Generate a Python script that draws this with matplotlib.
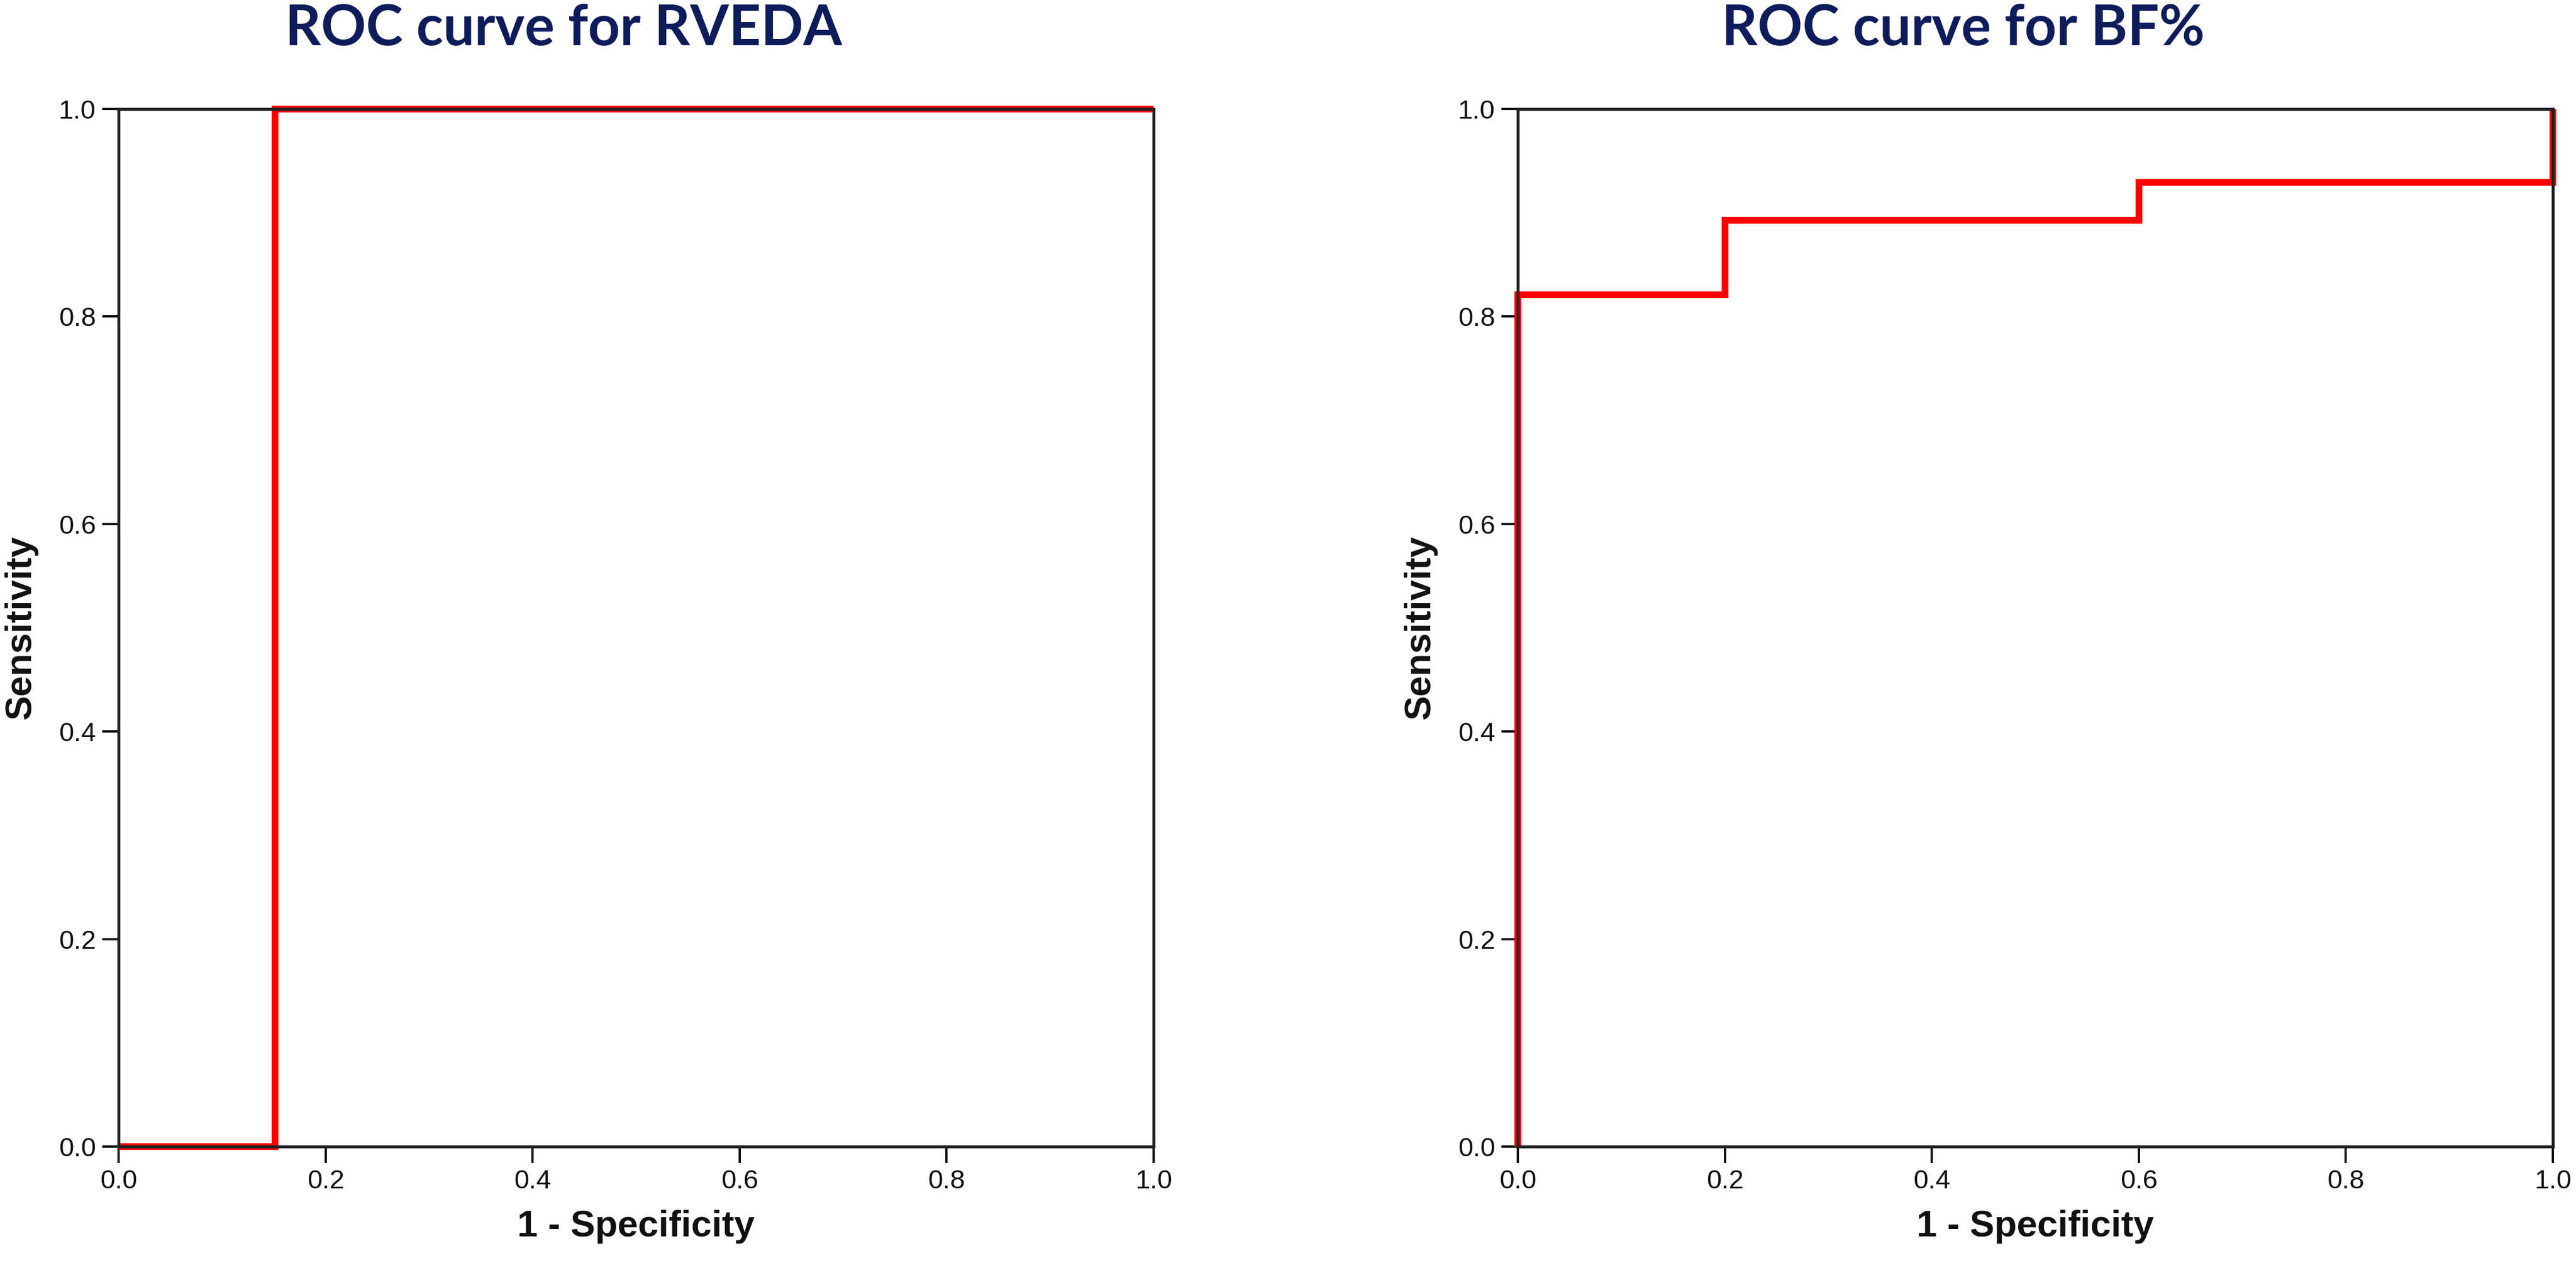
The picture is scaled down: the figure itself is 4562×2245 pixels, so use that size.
import matplotlib
matplotlib.use("Agg")
import matplotlib.pyplot as plt
from matplotlib.ticker import FormatStrFormatter

# Data
titles = ["ROC curve for RVEDA", "ROC curve for BF%"]
rveda_fpr = [0.0, 0.151, 0.151, 1.0]
rveda_tpr = [0.0, 0.0, 1.0, 1.0]
bf_fpr = [0.0, 0.0, 0.2, 0.2, 0.6, 0.6, 1.0, 1.0]
bf_tpr = [0.0, 0.821, 0.821, 0.893, 0.893, 0.929, 0.929, 1.0]
tick_values = [0.0, 0.2, 0.4, 0.6, 0.8, 1.0]
xlabel_text = "1 - Specificity"
ylabel_text = "Sensitivity"

W, H = 4562, 2245
DPI = 100
fig = plt.figure(figsize=(W / DPI, H / DPI), dpi=DPI)
fig.patch.set_facecolor("white")

sans = ["Liberation Sans", "DejaVu Sans"]
title_font = ["Lato", "Open Sans", "DejaVu Sans"]

ax_left_px = [210, 2688]
ax_w_px = 1833
ax_top_px = 193
ax_bot_px = 2030

series = [(rveda_fpr, rveda_tpr), (bf_fpr, bf_tpr)]

for i, (fx, ty) in enumerate(series):
    x0 = ax_left_px[i]
    ax = fig.add_axes([x0 / W, 1 - ax_bot_px / H, ax_w_px / W, (ax_bot_px - ax_top_px) / H])
    ax.plot(fx, ty, color="#FF0000", lw=8.6, clip_on=False, zorder=2,
            solid_joinstyle="miter", solid_capstyle="butt")
    ax.set_xlim(0, 1)
    ax.set_ylim(0, 1)
    ax.set_xticks(tick_values)
    ax.set_yticks(tick_values)
    ax.xaxis.set_major_formatter(FormatStrFormatter("%.1f"))
    ax.yaxis.set_major_formatter(FormatStrFormatter("%.1f"))
    for s in ax.spines.values():
        s.set_linewidth(3.8)
        s.set_color("#222222")
        s.set_zorder(3)
    ax.tick_params(axis="both", direction="out", length=21, width=2.9, pad=8,
                   color="#111111", labelsize=34, labelcolor="#111111")
    for lab in ax.get_xticklabels() + ax.get_yticklabels():
        lab.set_family(sans)
    cx = x0 + ax_w_px / 2
    # axis labels
    fig.text(cx / W, 1 - 2172 / H, xlabel_text, ha="center", va="center",
             fontsize=47, fontweight="bold", family=sans, color="#111111")
    fig.text((x0 - 173) / W, 1 - ((ax_top_px + ax_bot_px) / 2) / H, ylabel_text,
             ha="center", va="center", rotation=90,
             fontsize=47, fontweight="bold", family=sans, color="#111111")
    # title
    fig.text((cx - 128) / W, 1 - 80 / H, titles[i], ha="center", va="baseline",
             fontsize=71, fontweight="bold", family=title_font, color="#0F1C5C")

fig.savefig("out.png", dpi=DPI, facecolor="white")
